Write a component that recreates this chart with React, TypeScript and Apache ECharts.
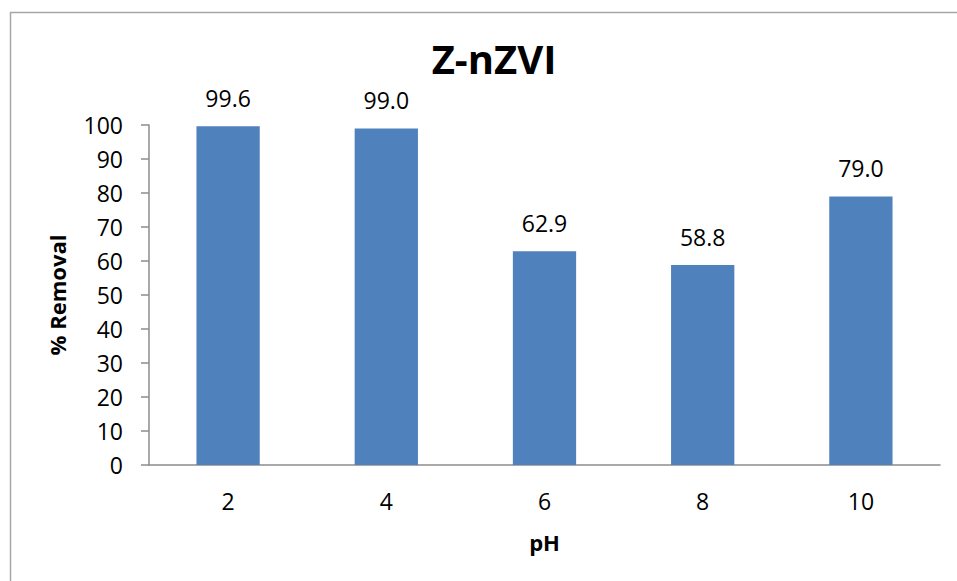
import React, { useEffect, useRef } from "react";
import * as echarts from "echarts";

const categories = ["2", "4", "6", "8", "10"];
const removal = [99.6, 99.0, 62.9, 58.8, 79.0];
const yMin = 0;
const yMax = 100;
const yStep = 10;

export default function App() {
  const ref = useRef<HTMLDivElement>(null);
  useEffect(() => {
    document.body.style.margin = "0";
    const chart = echarts.init(ref.current!, null, { renderer: "svg" });
    const font = "'Open Sans', sans-serif";
    chart.setOption({
      animation: false,
      backgroundColor: "#ffffff",
      title: {
        text: "Z-nZVI",
        left: 489,
        top: 33,
        textAlign: "center",
        textStyle: { fontFamily: font, fontSize: 40, fontWeight: "bold", color: "#000" },
      },
      graphic: [
        {
          type: "rect",
          shape: { x: 10.5, y: 12.5, width: 1000, height: 1000 },
          style: { fill: "none", stroke: "#a6a6a6", lineWidth: 1.5 },
          silent: true,
        },
      ],
      grid: { left: 149, right: 17, top: 125, bottom: 116 },
      xAxis: {
        type: "category",
        data: categories,
        name: "pH",
        nameLocation: "middle",
        nameGap: 66,
        nameTextStyle: { fontFamily: font, fontSize: 22, fontWeight: "bold", color: "#000", verticalAlign: "top" },
        axisLine: { lineStyle: { color: "#8c8c8c", width: 1.5 } },
        axisTick: { show: false },
        axisLabel: { margin: 24, fontFamily: font, fontSize: 23, color: "#000" },
      },
      yAxis: {
        type: "value",
        min: yMin,
        max: yMax,
        interval: yStep,
        name: "% Removal",
        nameLocation: "middle",
        nameGap: 81,
        nameRotate: 90,
        nameTextStyle: { fontFamily: font, fontSize: 22, fontWeight: "bold", color: "#000" },
        axisLine: { show: true, lineStyle: { color: "#8c8c8c", width: 1.5 } },
        axisTick: { show: true, length: 8, lineStyle: { color: "#8c8c8c", width: 1.5 } },
        axisLabel: { margin: 26, fontFamily: font, fontSize: 23, color: "#000" },
        splitLine: { show: false },
      },
      series: [
        {
          type: "bar",
          data: removal,
          barWidth: "40%",
          itemStyle: { color: "#4f81bd" },
          label: {
            show: true,
            position: "top",
            distance: 17,
            fontFamily: font,
            fontSize: 23,
            color: "#000",
            formatter: (p: any) => Number(p.value).toFixed(1),
          },
        },
      ],
    });
    return () => chart.dispose();
  }, []);
  return <div ref={ref} style={{ width: 957, height: 581 }} />;
}
